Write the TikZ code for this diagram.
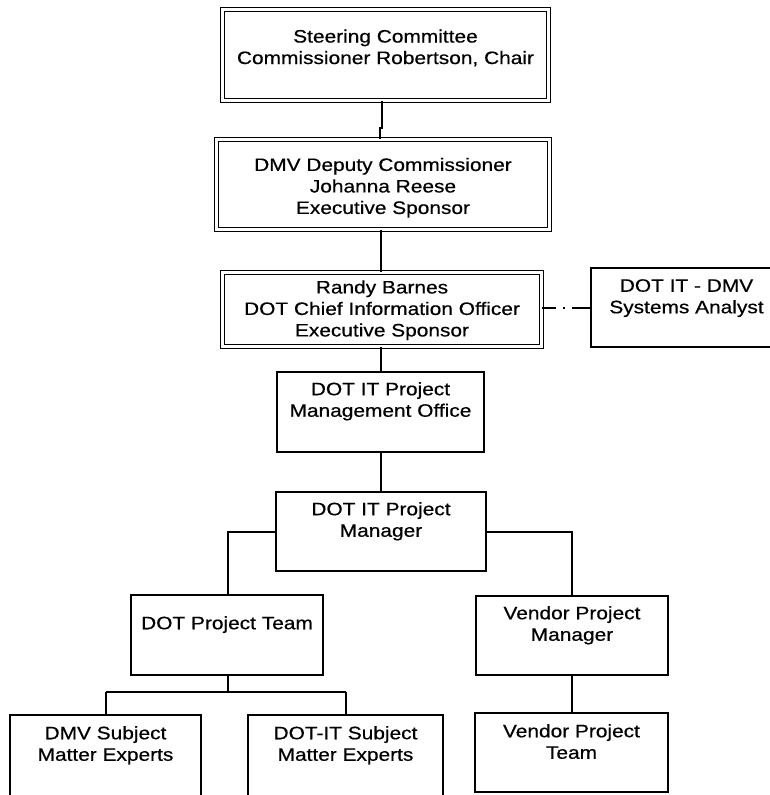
\documentclass[tikz,border=0pt]{standalone}
\usepackage{fontspec}
\setmainfont[FakeStretch=1.16,FakeBold=0.5]{Liberation Sans}
\usepackage{tikz}
\usetikzlibrary{calc}

\begin{document}
\begin{tikzpicture}[x=1pt,y=-1pt,line cap=butt]
	\tikzstyle{unit}=[draw,rectangle,line width=2pt,inner sep=0pt];
	\tikzstyle{boss}=[unit,line width=1.6pt,double,double distance=2.2pt];
	\tikzstyle{txt}=[anchor=north,align=center,inner sep=0pt,font=\fontsize{18}{21.5}\selectfont];
	\tikzstyle{link}=[line width=2pt];
%<--------------------------------------------------------------------------->%
	\useasboundingbox (0,0) rectangle (770,795);
	\clip (0,0) rectangle (770,795);
	%% Boxes
	\node[boss,minimum width=326,minimum height=91] (steer) at (385.5,55) {};
	\node[boss,minimum width=333,minimum height=90] (dmv) at (383,184.5) {};
	\node[boss,minimum width=319,minimum height=74] (randy) at (382,309.5) {};
	\node[unit,minimum width=191,minimum height=79] (analyst) at (686.5,307.5) {};
	\node[unit,minimum width=207,minimum height=80] (pmo) at (380.5,412) {};
	\node[unit,minimum width=210,minimum height=79] (pm) at (381,531.5) {};
	\node[unit,minimum width=192,minimum height=80] (team) at (227,635) {};
	\node[unit,minimum width=192,minimum height=79] (vpm) at (572,635.5) {};
	\node[unit,minimum width=191,minimum height=85] (dmvsme) at (105.5,757.5) {};
	\node[unit,minimum width=195,minimum height=85] (itsme) at (345.5,757.5) {};
	\node[unit,minimum width=193,minimum height=79] (vteam) at (571.5,752.5) {};
	%% Texts
	\node[txt] (steertxt) at ($(steer.north)+(0,20.6)$) {Steering Committee\\Commissioner Robertson, Chair};
	\node[txt] (dmvtxt) at ($(dmv.north)+(0,19)$) {DMV Deputy Commissioner\\Johanna Reese\\Executive Sponsor};
	\node[txt] (randytxt) at ($(randy.north)+(0,8.5)$) {Randy Barnes\\DOT Chief Information Officer\\Executive Sponsor};
	\node[txt] (analysttxt) at ($(analyst.north)+(0,12)$) {DOT IT - DMV\\Systems Analyst};
	\node[txt] (pmotxt) at ($(pmo.north)+(0,11)$) {DOT IT Project\\Management Office};
	\node[txt] (pmtxt) at ($(pm.north)+(0,11)$) {DOT IT Project\\Manager};
	\node[txt] (teamtxt) at ($(team.north)+(0,22)$) {DOT Project Team};
	\node[txt] (vpmtxt) at ($(vpm.north)+(0,11)$) {Vendor Project\\Manager};
	\node[txt] (dmvsmetxt) at ($(dmvsme.north)+(0,12)$) {DMV Subject\\Matter Experts};
	\node[txt] (itsmetxt) at ($(itsme.north)+(0,12)$) {DOT-IT Subject\\Matter Experts};
	\node[txt] (vteamtxt) at ($(vteam.north)+(0,12)$) {Vendor Project\\Team};
	%% Connectors
	\coordinate (j1) at (382,128);
	\coordinate (j2) at (380,128);
	\coordinate (spine) at (381,0);
	\coordinate (lft) at (228,532);
	\coordinate (rgt) at (572,532);
	\coordinate (fork) at (228,692);
	\draw[link] (steer.south -| j1) -- (j1) -- (j2) -- (j2 |- dmv.north);
	\draw[link] (dmv.south -| spine) -- (randy.north -| spine);
	\draw[link] (randy.south -| spine) -- (pmo.north -| spine);
	\draw[link] (pmo.south -| spine) -- (pm.north -| spine);
	\draw[link] (pm.west |- lft) -- (lft) -- (lft |- team.north);
	\draw[link] (pm.east |- rgt) -- (rgt) -- (rgt |- vpm.north);
	\draw[link] (team.south -| fork) -- (fork);
	\draw[link] (fork -| dmvsme.north) -- (fork -| itsme.north);
	\draw[link] (fork -| dmvsme.north) -- (dmvsme.north);
	\draw[link] (fork -| itsme.north) -- (itsme.north);
	\draw[link] (vpm.south -| rgt) -- (vteam.north -| rgt);
	\draw[link,dash pattern=on 14pt off 7pt on 2pt off 7pt on 20pt off 0pt] (randy.east |- 0,308) -- (analyst.west |- 0,308);
\end{tikzpicture}
\end{document}
